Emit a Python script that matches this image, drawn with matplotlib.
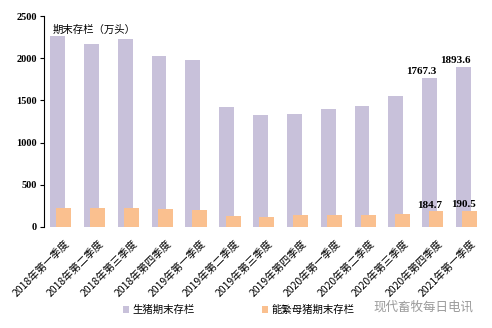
import matplotlib
matplotlib.use("Agg")
import matplotlib.pyplot as plt
import matplotlib.transforms as mtransforms
import numpy as np

# data (万头)
quarters = ["2018年第一季度", "2018年第二季度", "2018年第三季度", "2018年第四季度",
            "2019年第一季度", "2019年第二季度", "2019年第三季度", "2019年第四季度",
            "2020年第一季度", "2020年第二季度", "2020年第三季度", "2020年第四季度",
            "2021年第一季度"]
pigs = [2263, 2172, 2228, 2026, 1979, 1425, 1327, 1339, 1398, 1434, 1552, 1767.3, 1893.6]
sows = [229, 229, 229, 217, 205, 130, 122, 139, 141, 143, 154, 184.7, 190.5]
labelled = [11, 12]

purple = "#C8C1DA"
orange = "#FAC08F"
cjk = ["Noto Sans CJK SC", "DejaVu Sans"]
num_font = "Liberation Serif"

fig = plt.figure(figsize=(4.92, 3.28), dpi=100)
ax = fig.add_axes([0.089, 0.308, 0.887, 0.643])

x = np.arange(len(quarters))
w = 0.44
off = 0.095
ax.bar(x - off, pigs, w, color=purple, label="生猪期末存栏", zorder=2)
ax.bar(x + off, sows, w, color=orange, label="能繁母猪期末存栏", zorder=3)

for i in labelled:
    ax.text(x[i] - 0.33, pigs[i] + 25, f"{pigs[i]:.1f}", ha="center", va="bottom",
            fontsize=8, fontweight="bold", family=num_font)
    ax.text(x[i] - 0.1, sows[i] + 20, f"{sows[i]:.1f}", ha="center", va="bottom",
            fontsize=8, fontweight="bold", family=num_font)

ax.set_xlim(-0.5, 12.4)
ax.set_ylim(0, 2500)
ax.set_yticks([0, 500, 1000, 1500, 2000, 2500])
for t in ax.get_yticklabels():
    t.set_family(num_font)
    t.set_fontweight("bold")
    t.set_fontsize(7.5)
ax.tick_params(axis="y", length=3, width=0.8, pad=2)

ax.set_xticks(x)
ax.set_xticklabels(quarters, rotation=45, ha="right", rotation_mode="anchor",
                   fontsize=7.5, family=cjk)
ax.tick_params(axis="x", length=0, pad=8)
shift = mtransforms.ScaledTranslation(4 / 100, 0, fig.dpi_scale_trans)
for t in ax.get_xticklabels():
    t.set_transform(t.get_transform() + shift)

for s in ["top", "right", "bottom"]:
    ax.spines[s].set_visible(False)
ax.spines["left"].set_linewidth(0.8)

ax.text(0.02, 0.96, "期末存栏（万头）", transform=ax.transAxes, ha="left", va="top",
        fontsize=7.5, family=cjk)

fig.legend(loc="center", bbox_to_anchor=(0.485, 0.055), ncol=2, frameon=False,
           prop={"family": cjk, "size": 7.5}, handlelength=0.6, handleheight=0.6,
           columnspacing=6.5, handletextpad=0.3)

fig.text(0.962, 0.065, "现代畜牧每日电讯", ha="right", va="center", fontsize=9,
         color="#9a9a9a", family=cjk)

fig.savefig("out.png", dpi=100)
